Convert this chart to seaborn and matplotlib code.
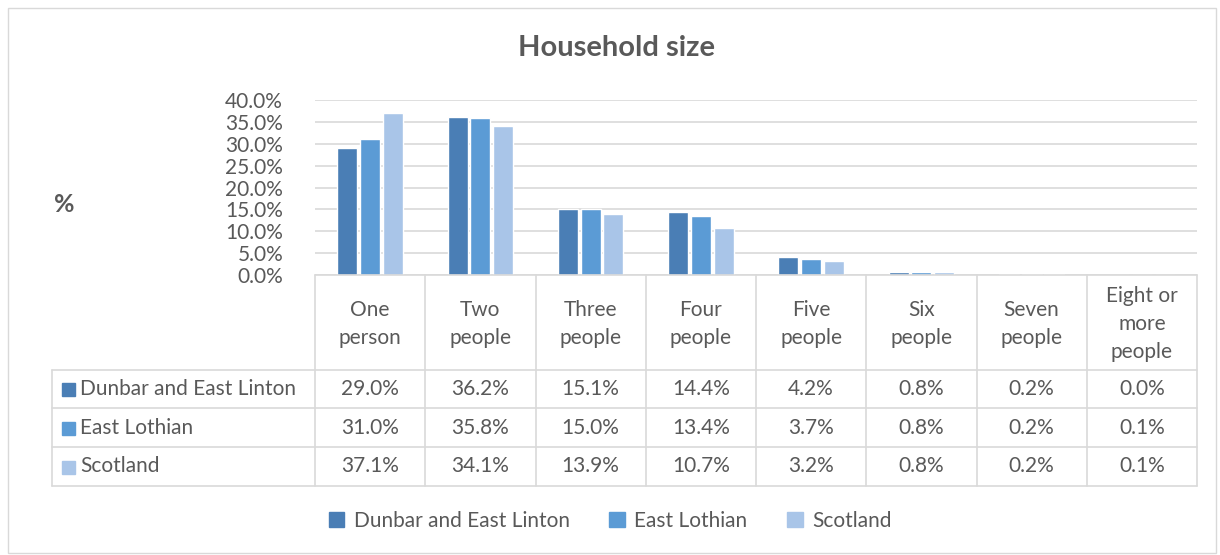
import matplotlib
matplotlib.use("Agg")
import matplotlib.pyplot as plt
import matplotlib.transforms as mtransforms
from matplotlib.patches import Rectangle
from matplotlib.lines import Line2D
import seaborn as sns
import pandas as pd

# data
categories = ["One\nperson", "Two\npeople", "Three\npeople", "Four\npeople",
              "Five\npeople", "Six\npeople", "Seven\npeople", "Eight or\nmore\npeople"]
series = ["Dunbar and East Linton", "East Lothian", "Scotland"]
dunbar = [29.0, 36.2, 15.1, 14.4, 4.2, 0.8, 0.2, 0.0]
east_lothian = [31.0, 35.8, 15.0, 13.4, 3.7, 0.8, 0.2, 0.1]
scotland = [37.1, 34.1, 13.9, 10.7, 3.2, 0.8, 0.2, 0.1]
colors = ["#4A7EB5", "#5B9BD5", "#A9C5E8"]
yticks = [0, 5, 10, 15, 20, 25, 30, 35, 40]

rows = []
for name, vals in zip(series, [dunbar, east_lothian, scotland]):
    for c, v in zip(categories, vals):
        rows.append({"size": c, "area": name, "pct": v})
df = pd.DataFrame(rows)

sns.set_style("white")
plt.rcParams["font.family"] = ["Lato", "DejaVu Sans"]
txt = "#595959"
grid = "#D9D9D9"
fs = 15

W, H = 1220, 555
fig = plt.figure(figsize=(W / 100, H / 100), dpi=100)
L, R, T, B = 315, 1197, 100, 275
ax = fig.add_axes([L / W, 1 - B / H, (R - L) / W, (B - T) / H])

sns.barplot(data=df, x="size", y="pct", hue="area", order=categories,
            hue_order=series, palette=colors, width=0.62, gap=0.12,
            saturation=1, ax=ax, legend=False)

ax.set_xlim(-0.5, len(categories) - 0.5)
ax.set_ylim(0, 40)
ax.set_yticks(yticks)
ax.set_yticklabels([f"{t:.1f}%" for t in yticks], color=txt, fontsize=fs)
ax.set_xticks([])
ax.set_xlabel("")
ax.set_ylabel("")
ax.yaxis.grid(True, color=grid, linewidth=1.2)
ax.set_axisbelow(True)
ax.tick_params(axis="y", length=0, pad=23)
for s in ax.spines.values():
    s.set_visible(False)

fig.text(617 / W, 1 - 48 / H, "Household size", ha="center", va="center",
         fontsize=21, fontweight="bold", color=txt)
fig.text(64 / W, 1 - 204 / H, "%", ha="center", va="center",
         fontsize=18, fontweight="bold", color=txt)

# data table beneath the axis
bt = mtransforms.blended_transform_factory(ax.transData, fig.transFigure)
fy = lambda py: 1 - py / H
y_head, y_rows = B, [370, 408, 447, 486]
lc = "#D9D9D9"
n = len(categories)
for i in range(n + 1):
    fig.add_artist(Line2D([i - 0.5, i - 0.5], [fy(y_head), fy(486)],
                          transform=bt, color=lc, linewidth=1.2))
fig.add_artist(Line2D([-0.5, n - 0.5], [fy(y_head), fy(y_head)],
                      transform=bt, color=lc, linewidth=1.2))
for y in y_rows:
    fig.add_artist(Line2D([52 / W, R / W], [fy(y), fy(y)],
                          transform=fig.transFigure, color=lc, linewidth=1.2))
fig.add_artist(Line2D([52 / W, 52 / W], [fy(370), fy(486)],
                      transform=fig.transFigure, color=lc, linewidth=1.2))

for i, c in enumerate(categories):
    fig.text(i, fy((y_head + 370) / 2 + 1), c, transform=bt, ha="center",
             va="center", fontsize=fs, color=txt, linespacing=1.5)

for r, (name, vals, col) in enumerate(zip(series, [dunbar, east_lothian, scotland], colors)):
    yc = fy((y_rows[r] + y_rows[r + 1]) / 2)
    fig.add_artist(Rectangle((62 / W, yc - 7 / H), 13 / W, 13 / H,
                             transform=fig.transFigure, color=col))
    fig.text(80 / W, yc, name, ha="left", va="center", fontsize=fs, color=txt)
    for i, v in enumerate(vals):
        fig.text(i, yc, f"{v:.1f}%", transform=bt, ha="center", va="center",
                 fontsize=fs, color=txt)

handles = [Rectangle((0, 0), 1, 1, color=c) for c in colors]
fig.legend(handles, series, loc="center", bbox_to_anchor=(0.5, fy(521)),
           ncol=3, frameon=False, fontsize=fs, handlelength=0.75,
           handleheight=0.75, handletextpad=0.45, columnspacing=1.9,
           labelcolor=txt)

fig.add_artist(Rectangle((8 / W, 2 / H), 1208 / W, 545 / H, fill=False,
                         edgecolor=lc, linewidth=1, transform=fig.transFigure))

fig.savefig("out.png", dpi=100)
